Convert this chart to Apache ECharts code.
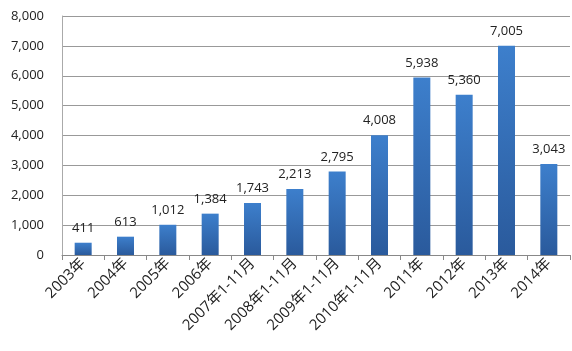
<!DOCTYPE html>
<html>
<head>
<meta charset="utf-8">
<script src="https://cdn.jsdelivr.net/npm/echarts@6/dist/echarts.min.js"></script>
<style>
  html, body { margin: 0; padding: 0; background: #fff; }
  #chart { width: 572px; height: 351px; }
</style>
</head>
<body>
<div id="chart"></div>
<script>
const categories = ['2003年', '2004年', '2005年', '2006年', '2007年1-11月', '2008年1-11月',
  '2009年1-11月', '2010年1-11月', '2011年', '2012年', '2013年', '2014年']
const values = [411, 613, 1012, 1384, 1743, 2213, 2795, 4008, 5938, 5360, 7005, 3043]

const chart = echarts.init(document.getElementById('chart'))
const font = "'Open Sans', 'Noto Sans CJK SC', sans-serif"

chart.setOption({
  backgroundColor: '#fff',
  animation: false,
  grid: { left: 62, right: 2, top: 16, bottom: 96 },
  xAxis: {
    type: 'category',
    data: categories,
    axisLine: { lineStyle: { color: '#888' } },
    axisTick: { show: true, length: 5, lineStyle: { color: '#888' } },
    axisLabel: { rotate: 45, interval: 0, color: '#222', fontSize: 15, fontFamily: font, margin: 6 }
  },
  yAxis: {
    type: 'value',
    min: 0,
    max: 8000,
    interval: 1000,
    axisLine: { show: true, lineStyle: { color: '#aaa' } },
    axisTick: { show: false },
    splitLine: { lineStyle: { color: '#999' } },
    axisLabel: {
      color: '#222',
      fontSize: 13,
      fontFamily: font,
      margin: 18,
      formatter: (v) => v.toLocaleString('en-US')
    }
  },
  series: [
    {
      type: 'bar',
      data: values,
      barWidth: 17,
      itemStyle: {
        color: new echarts.graphic.LinearGradient(0, 0, 0, 1, [
          { offset: 0, color: '#3d7fcc' },
          { offset: 1, color: '#2a5a9c' }
        ])
      },
      label: {
        show: true,
        position: 'top',
        distance: 8,
        color: '#222',
        fontSize: 13,
        fontFamily: font,
        formatter: (p) => p.value.toLocaleString('en-US')
      }
    }
  ]
})
</script>
</body>
</html>
